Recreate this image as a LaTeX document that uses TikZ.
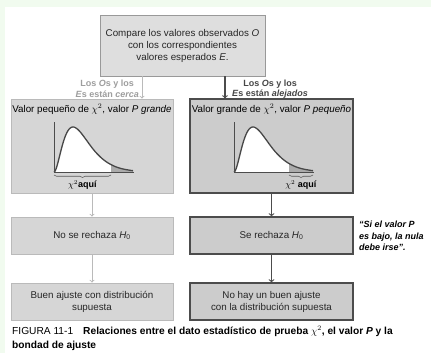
\documentclass[tikz,border=0pt]{standalone}
\usepackage{fontspec}
\setmainfont{Liberation Sans}
\usepackage{tikz}
\usetikzlibrary{positioning, arrows, calc, decorations.pathreplacing}
\definecolor{bgGreen}{HTML}{F1FBEF}
\colorlet{topLine}{black!40}
\colorlet{topFill}{black!13}
\colorlet{lightLine}{black!27}
\colorlet{lightFill}{black!16}
\colorlet{darkLine}{black!70}
\colorlet{darkFill}{black!20}
\colorlet{tailFill}{black!33}
\tikzstyle{boxTop}=[draw=topLine, fill=topFill, line width=0.9pt, text=black!85, align=center, inner sep=0pt]
\tikzstyle{boxLight}=[draw=lightLine, fill=lightFill, line width=0.9pt, text=black!85, align=center, minimum width=162pt, inner sep=0pt]
\tikzstyle{boxDark}=[draw=darkLine, fill=darkFill, line width=1.2pt, text=black!85, align=center, minimum width=163pt, inner sep=0pt]
\tikzstyle{arrowLight}=[->, >=to, line width=0.9pt, draw=lightLine]
\tikzstyle{arrowDark}=[->, >=to, line width=1.1pt, draw=darkLine]
\tikzstyle{branchText}=[font=\fontsize{9}{10.5}\selectfont\bfseries, align=center, inner sep=0pt]
\tikzstyle{curve}=[line width=1.3pt, draw=black!72, line join=round]
\tikzstyle{axisLine}=[line width=0.7pt, draw=black!70]
\tikzstyle{chiBrace}=[decorate, decoration={brace, mirror, amplitude=2.5pt}, line width=0.6pt, draw=black!65]
\tikzset{declare function={chiPdf(\t)=0.921*\t*\t*exp(-\t/9.5);}}

\begin{document}
\begin{tikzpicture}[x=1pt, y=-1pt, every node/.style={font=\fontsize{9.8}{12}\selectfont}]
      \useasboundingbox (0,0) rectangle (431,353);
      \fill[bgGreen] (0,0) rectangle (431,353);
      \fill[white] (5,7) rectangle (431,353);

      % boxes
      \node[boxTop, minimum width=165pt, minimum height=61pt] (compare) at (182.5,45.5)
        {Compare los valores observados \textit{O}\\con los correspondientes\\valores esperados \textit{E}.};
      \node[boxLight, minimum height=94pt] (smallChi) at (92,146) {};
      \node[boxDark, minimum height=94pt] (largeChi) at (271.5,146) {};
      \node[below=2pt of smallChi.north] (smallTitle) {Valor pequeño de $\chi^2$, valor \textit{P grande}};
      \node[below=2pt of largeChi.north] (largeTitle) {Valor grande de $\chi^2$, valor \textit{P pequeño}};
      \node[boxLight, minimum height=37pt] (keepH) at (92,235.5) {No se rechaza \textit{H}\textsubscript{0}};
      \node[boxDark, minimum height=37pt] (rejectH) at (271.5,235.5) {Se rechaza \textit{H}\textsubscript{0}};
      \node[boxLight, minimum height=37pt] (goodFit) at (92,301.5) {Buen ajuste con distribución\\supuesta};
      \node[boxDark, minimum height=37pt] (badFit) at (271.5,301.5) {No hay un buen ajuste\\con la distribución supuesta};

      % arrows
      \coordinate (splitL) at (142,0);
      \coordinate (splitR) at (225,0);
      \draw[arrowLight] (compare.south -| splitL) -- (smallChi.north -| splitL);
      \draw[arrowDark] (compare.south -| splitR) -- (largeChi.north -| splitR);
      \draw[arrowLight] (smallChi) -- (keepH);
      \draw[arrowDark] (largeChi) -- (rejectH);
      \draw[arrowLight] (keepH) -- (goodFit);
      \draw[arrowDark] (rejectH) -- (badFit);

      \node[branchText, text=black!38, anchor=east] (nearLbl) at (139,89) {Los \textit{O}s y los\\\textit{E}s están \textit{cerca}};
      \node[branchText, text=black!72, anchor=west] (farLbl) at (232,89) {Los \textit{O}s y los\\\textit{E}s están \textit{alejados}};

      % chi-square curves
      \foreach \ox/\cut in {54/57, 234/55} {
        \begin{scope}[shift={(\ox,172)}]
          \fill[white] (0,0) -- plot[domain=0:\cut, samples=40] (\x,{-chiPdf(\x)}) -- (\cut,0) -- cycle;
          \fill[tailFill] (\cut,0) -- plot[domain=\cut:79, samples=30] (\x,{-chiPdf(\x)}) -- (79,0) -- cycle;
          \draw[curve] plot[domain=0:79, samples=80] (\x,{-chiPdf(\x)});
          \draw[axisLine] (0,-50) -- (0,0) -- (80,0);
        \end{scope}
      }
      \draw[chiBrace] (54,175) -- (111,175);
      \draw[chiBrace] (289,175) -- (313,175);
      \node[font=\fontsize{9}{10}\selectfont] (hereL) at (82.5,185) {$\chi^2$\textbf{aquí}};
      \node[font=\fontsize{9}{10}\selectfont] (hereR) at (301,185) {$\chi^2$ \textbf{aquí}};

      \node[font=\fontsize{9}{11.5}\selectfont\bfseries\itshape, align=left, anchor=north west, inner sep=0pt] (nullQuote) at (359,221)
        {“Si el valor P\\es bajo, la nula\\debe irse”.};

      \node[font=\fontsize{10.2}{14}\selectfont, align=left, anchor=north west, inner sep=0pt] (caption) at (12,326)
        {FIGURA 11-1\hspace{10pt}\textbf{Relaciones entre el dato estadístico de prueba $\chi^2$, el valor \textit{P} y la}\\\textbf{bondad de ajuste}};
    \end{tikzpicture}
\end{document}
